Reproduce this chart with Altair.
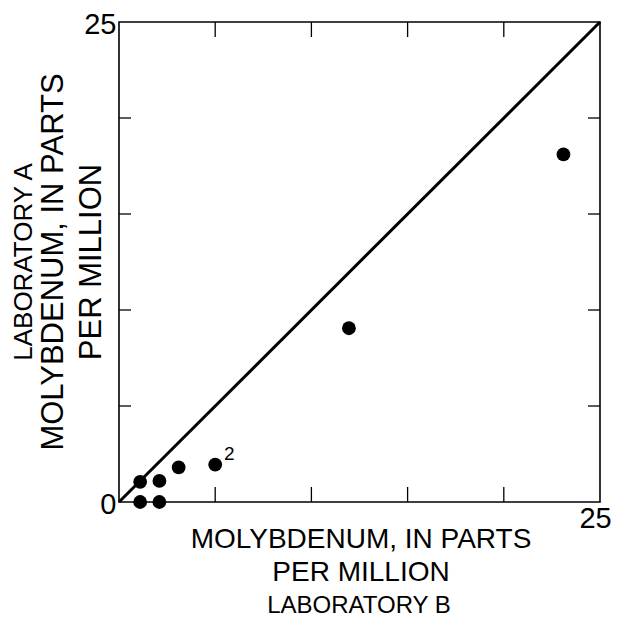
import altair as alt
import pandas as pd

# ---- data ----
lab_b = [1.1, 2.1, 1.1, 2.1, 3.1, 5.0, 11.95, 23.1]   # Laboratory B (x)
lab_a = [0.0, 0.0, 1.05, 1.1, 1.8, 1.95, 9.05, 18.1]   # Laboratory A (y)
point_notes = ["", "", "", "", "", "2", "", ""]
line_b = [0, 25]
line_a = [0, 25]
tick_values = [5, 10, 15, 20]
x_label_values = [25]
y_label_values = [0, 25]
x_title = ["MOLYBDENUM, IN PARTS", "PER MILLION"]
x_subtitle = "LABORATORY B"
y_title = ["MOLYBDENUM, IN PARTS", "PER MILLION"]
y_subtitle = "LABORATORY A"

FONT = "Liberation Sans"
W, H = 481, 480

pts = pd.DataFrame({"b": lab_b, "a": lab_a, "note": point_notes})
diag = pd.DataFrame({"b": line_b, "a": line_a})
ticks = pd.DataFrame({"v": tick_values})

xscale = alt.Scale(domain=[0, 25], nice=False, zero=False)
yscale = alt.Scale(domain=[0, 25], nice=False, zero=False)

x_axis = alt.Axis(values=x_label_values, title=None, ticks=False, domain=False,
                  grid=False, labelFontSize=29, labelFont=FONT, labelColor="black",
                  labelPadding=2, labelFlush=False, labelOffset=-5)
y_axis = alt.Axis(values=y_label_values, title=None, ticks=False, domain=False,
                  grid=False, labelFontSize=29, labelFont=FONT, labelColor="black",
                  labelPadding=3, labelFlush=False, labelOffset=2)

X = lambda f: alt.X(f, type="quantitative", scale=xscale, axis=x_axis)
Y = lambda f: alt.Y(f, type="quantitative", scale=yscale, axis=y_axis)

line = alt.Chart(diag).mark_line(color="black", strokeWidth=3).encode(x=X("b"), y=Y("a"))
points = alt.Chart(pts).mark_circle(color="black", opacity=1, size=190).encode(x=X("b"), y=Y("a"))
notes = alt.Chart(pts).mark_text(font=FONT, fontSize=19, dx=14, dy=-11, color="black").encode(
    x=X("b"), y=Y("a"), text="note:N")

tk = dict(color="black", strokeWidth=1.3)
t_bottom = alt.Chart(ticks).mark_rule(**tk).encode(x=X("v"), y=alt.value(H), y2=alt.value(H - 15))
t_top = alt.Chart(ticks).mark_rule(**tk).encode(x=X("v"), y=alt.value(0), y2=alt.value(15))
t_left = alt.Chart(ticks).mark_rule(**tk).encode(y=Y("v"), x=alt.value(0), x2=alt.value(12))
t_right = alt.Chart(ticks).mark_rule(**tk).encode(y=Y("v"), x=alt.value(W), x2=alt.value(W - 12))

one = alt.Data(values=[{"k": 1}])

def label(text, x, y, size, angle=0, line_height=None):
    kw = dict(text=text, font=FONT, fontSize=size, color="black",
              align="center", baseline="middle")
    if angle:
        kw["angle"] = angle
    if line_height:
        kw["lineHeight"] = line_height
    return alt.Chart(one).mark_text(**kw).encode(x=alt.value(x), y=alt.value(y))

titles = [
    label(x_title, 242, 518, 28, line_height=33),
    label(x_subtitle, 240, 584, 24),
    label(y_title, -65, 240, 31, 270, line_height=38),
    label(y_subtitle, -95, 240, 26, 270),
]

chart = alt.layer(line, points, notes, t_bottom, t_top, t_left, t_right, *titles).properties(
    width=W, height=H,
    autosize=alt.AutoSizeParams(type="none"),
    padding={"left": 111, "top": 14, "right": 12, "bottom": 118},
    background="white",
).configure_view(stroke="black", strokeWidth=1.6)

chart.save("out.html", embed_options={"renderer": "svg", "actions": False})
